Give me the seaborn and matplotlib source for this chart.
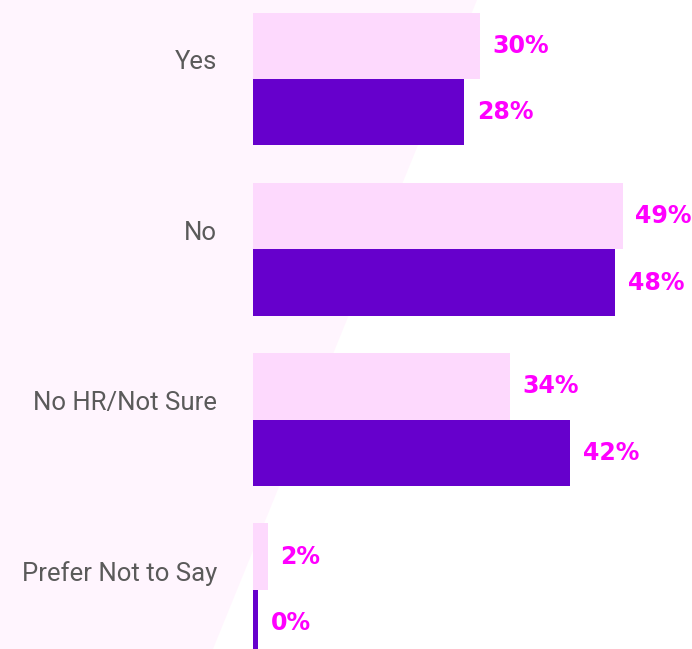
import pandas as pd
import matplotlib.pyplot as plt
import matplotlib.transforms as mtransforms
from matplotlib.patches import Polygon
import seaborn as sns

#%% data
categories = ["Yes", "No", "No HR/Not Sure", "Prefer Not to Say"]
light_vals = [30, 49, 34, 2]
dark_vals = [28, 48, 42, 0.7]  # last one is a sliver, shown as 0%
series = ["Earlier", "Latest"]

df = pd.DataFrame({
    "answer": categories * 2,
    "pct": light_vals + dark_vals,
    "series": [series[0]] * 4 + [series[1]] * 4,
})

#%% plot
sns.set_style("white")
plt.rcParams["font.family"] = ["Roboto", "DejaVu Sans"]

fig = plt.figure(figsize=(6.92, 6.49), dpi=100)
fig.patch.set_facecolor("white")

# faint pink diagonal shape behind everything
bg = fig.add_axes([0, 0, 1, 1], zorder=-1)
bg.set_xlim(0, 692)
bg.set_ylim(649, 0)
bg.add_patch(Polygon([(0, 0), (477, 0), (213, 649), (0, 649)], closed=True,
                     facecolor="#FFF5FE", edgecolor="none"))
bg.axis("off")

ax = fig.add_axes([253 / 692, 0, 1 - 253 / 692, 1])
ax.patch.set_alpha(0)

sns.barplot(data=df, y="answer", x="pct", hue="series", orient="h",
            palette=["#FDD9FD", "#6600CC"], width=0.78, gap=0,
            saturation=1, legend=False, linewidth=0, ax=ax)

for cont in ax.containers:
    labels = [f"{int(b.get_width())}%" for b in cont]
    ax.bar_label(cont, labels=labels, padding=9, color="#FF00FF",
                 fontsize=17, fontweight="heavy", family="DejaVu Sans")

ax.set_xlim(0, (692 - 253) / 7.55)
ax.set_ylim((649 - 79) / 170.3, -79 / 170.3)
ax.set_xlabel("")
ax.set_ylabel("")
ax.set_xticks([])
ax.tick_params(axis="y", length=0, pad=26, labelsize=18.5, labelcolor="#5A5A5A")
sns.despine(ax=ax, left=True, bottom=True)

# category names sit a bit above the middle of each pair
shift = mtransforms.ScaledTranslation(0, 0.19, fig.dpi_scale_trans)
for lab in ax.get_yticklabels():
    lab.set_transform(lab.get_transform() + shift)

fig.savefig("out.png", dpi=100)
